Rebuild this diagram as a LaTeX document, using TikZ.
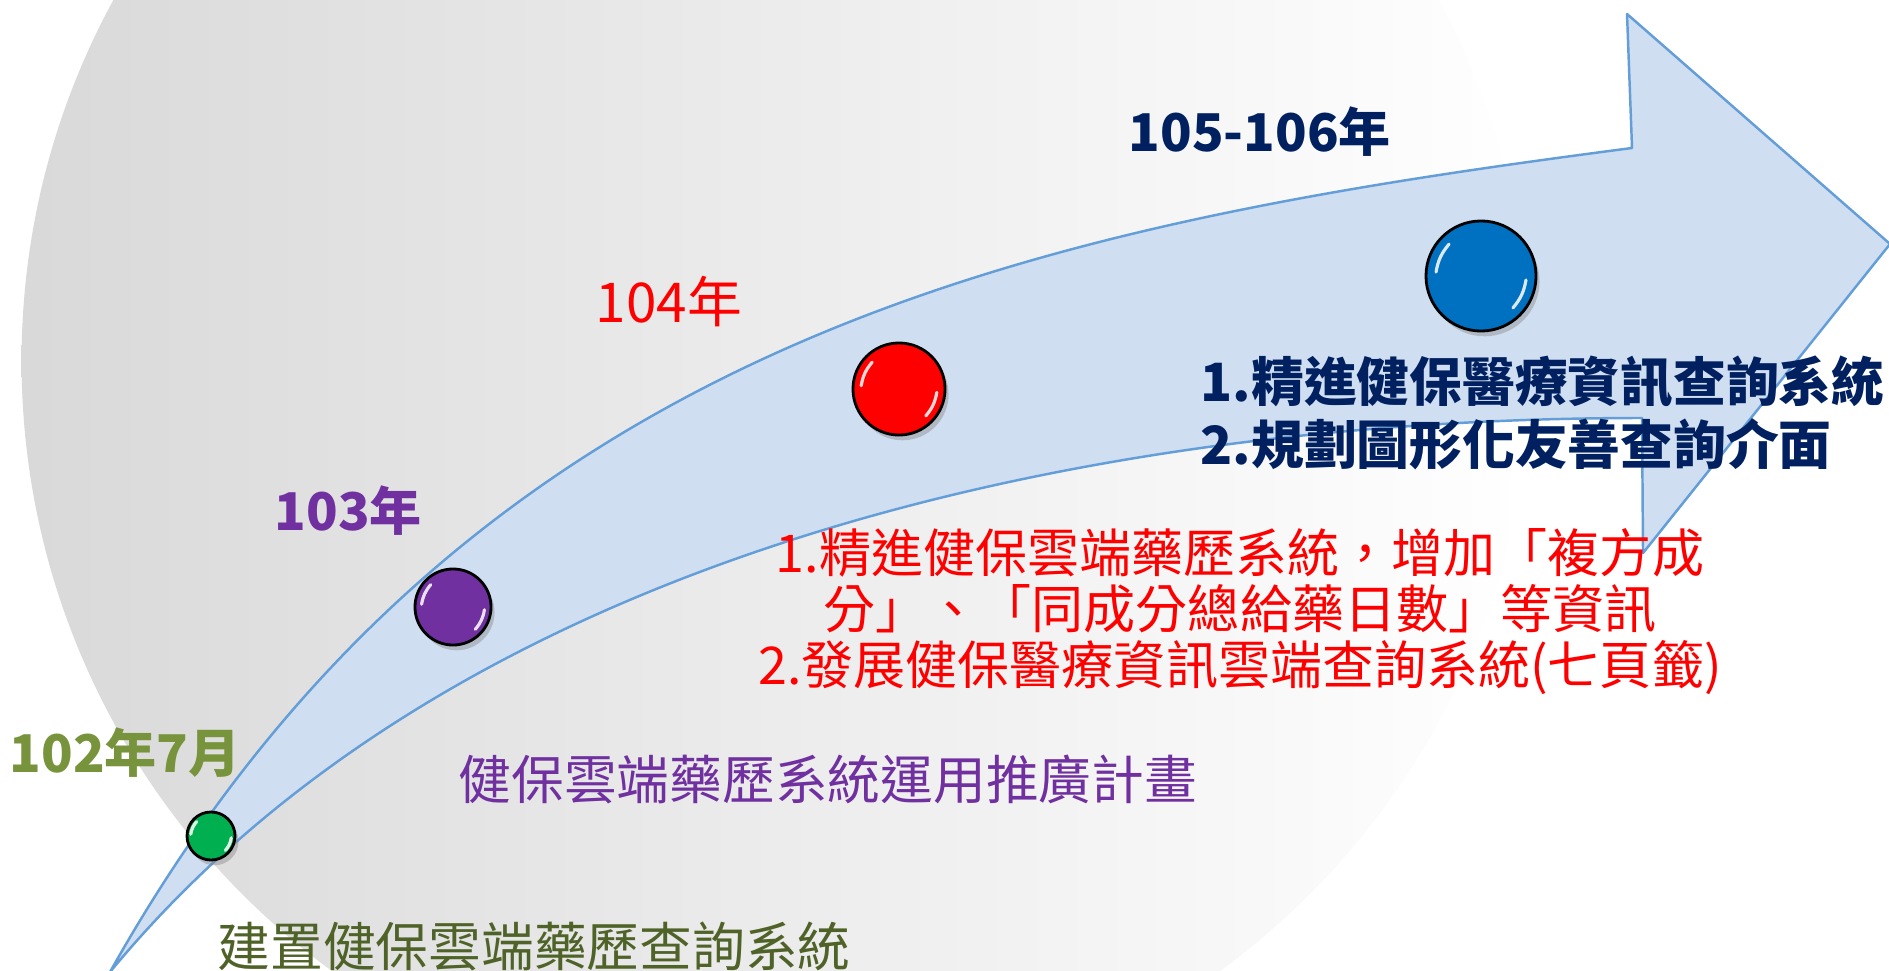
\documentclass[tikz,border=0pt]{standalone}
\usepackage{fontspec}
\setmainfont{Noto Sans CJK TC}
\usetikzlibrary{positioning,shadows,calc}
\definecolor{arrowfill}{RGB}{208,222,241}
\definecolor{arrowline}{RGB}{100,158,216}
\definecolor{mygreen}{RGB}{0,176,80}
\definecolor{mypurple}{RGB}{112,48,160}
\definecolor{myblue}{RGB}{0,112,192}
\definecolor{myolive}{RGB}{119,147,60}
\definecolor{mydarkgreen}{RGB}{79,98,40}
\definecolor{mynavy}{RGB}{0,32,96}

\begin{document}
\begin{tikzpicture}[x=0.01cm,y=-0.01cm,
  ball/.style={circle,draw=black,line width=0.8pt,inner sep=0pt,
    drop shadow={shadow xshift=1pt,shadow yshift=-1.5pt,opacity=0.4}},
  glint/.style={white,line width=0.9pt,line cap=round,opacity=0.85},
  year/.style={inner sep=0pt,anchor=base west,font=\fontsize{14.8}{17}\selectfont\bfseries},
  plan/.style={inner sep=0pt,anchor=north west,font=\fontsize{15}{18}\selectfont},
  goal/.style={inner sep=0pt,font=\fontsize{14.8}{15.9}\selectfont}
]
\useasboundingbox (0,0) rectangle (1889,970);
\clip (0,0) rectangle (1889,970);

% the grey disc behind
\shade[left color=black!15,right color=white] (776,361) circle[radius=7.54cm];

% the curved arrow
\filldraw[fill=arrowfill,draw=arrowline,line width=0.7pt,line join=round]
  (110,972) .. controls (470,330) and (1050,224) .. (1632,148)
  -- (1627,14) -- (1890,244) -- (1643,553) -- (1642,418)
  .. controls (1100,418) and (460,548) .. (110,972)
  -- cycle;

% the milestones
\node[ball,fill=mygreen,minimum size=0.48cm] (b102) at (211,836) {};
\node[ball,fill=mypurple,minimum size=0.76cm] (b103) at (453,607) {};
\node[ball,fill=red,minimum size=0.92cm] (b104) at (899,389) {};
\node[ball,fill=myblue,minimum size=1.1cm] (b105) at (1481,276) {};
\foreach \b in {b102,b103,b104,b105} {
  \draw[glint] ($(\b.center)!0.8!(\b.175)$) to[bend left=15] ($(\b.center)!0.8!(\b.135)$);
  \draw[glint] ($(\b.center)!0.8!(\b.-5)$) to[bend left=15] ($(\b.center)!0.8!(\b.-45)$);
}

% the years
\node[year,text=myolive] (y102) at (9,772) {102年7月};
\node[year,text=mypurple] (y103) at (274,530) {103年};
\node[year,text=red,font=\fontsize{15.6}{18}\selectfont] (y104) at (595,322) {104年};
\node[year,text=mynavy] (y105) at (1128,152) {105-106年};

% what was done each year
\node[plan,text=mydarkgreen] (p102) at (217,921) {建置健保雲端藥歷查詢系統};
\node[plan,text=mypurple] (p103) at (458,754) {健保雲端藥歷系統運用推廣計畫};
\node[goal,text=red,align=center,anchor=north] (p104) at (1240,528)
  {1.精進健保雲端藥歷系統，增加「複方成\\分」、「同成分總給藥日數」等資訊\\2.發展健保醫療資訊雲端查詢系統(七頁籤)};
\node[goal,text=mynavy,align=left,anchor=north west,font=\fontsize{15}{17.9}\selectfont\bfseries] (p105) at (1200,355)
  {1.精進健保醫療資訊查詢系統\\2.規劃圖形化友善查詢介面};
\end{tikzpicture}
\end{document}
